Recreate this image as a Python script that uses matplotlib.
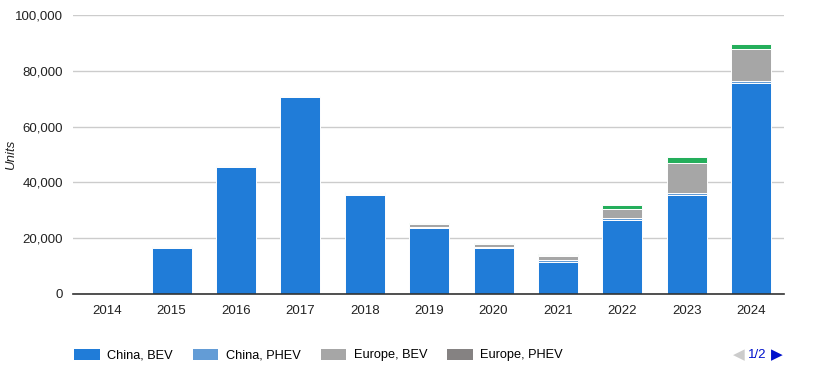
import matplotlib.pyplot as plt
import numpy as np
from matplotlib.patches import Patch
from matplotlib.ticker import FuncFormatter

plt.rcParams["font.family"] = ["Liberation Sans", "DejaVu Sans"]

years = ["2014", "2015", "2016", "2017", "2018", "2019", "2020", "2021", "2022", "2023", "2024"]
china_bev = [0, 16600, 45600, 70600, 35600, 23800, 16600, 11500, 26500, 35500, 75700]
china_phev = [0, 250, 150, 100, 200, 300, 350, 700, 700, 800, 600]
europe_bev = [0, 300, 450, 100, 350, 900, 900, 1500, 3300, 10700, 11500]
europe_phev = [0, 50, 50, 250, 250, 150, 200, 150, 100, 100, 100]
other_bev = [0, 0, 0, 0, 200, 200, 250, 550, 1300, 2000, 1800]

series = [
    ("China, BEV", china_bev, "#207CD8"),
    ("China, PHEV", china_phev, "#639CD6"),
    ("Europe, BEV", europe_bev, "#A6A6A6"),
    ("Europe, PHEV", europe_phev, "#858282"),
    ("Other, BEV", other_bev, "#24AE5B"),
]

fig = plt.figure(figsize=(8.14, 3.80), dpi=100)
ax = fig.add_axes([73 / 814, 1 - 294 / 380, (784 - 73) / 814, (294 - 15) / 380])

x = np.arange(len(years))
bottom = np.zeros(len(years))
for label, vals, color in series:
    vals = np.array(vals, dtype=float)
    ax.bar(x, vals, bottom=bottom, width=0.62, color=color,
           edgecolor="white", linewidth=0.7, zorder=3)
    bottom += vals

ax.set_xlim(-0.53, 10.51)
ax.set_ylim(0, 100000)
ax.set_yticks(range(0, 100001, 20000))
ax.yaxis.set_major_formatter(FuncFormatter(lambda v, p: f"{int(v):,}"))
ax.set_xticks(x)
ax.set_xticklabels(years)
ax.tick_params(axis="both", length=0, labelsize=9.5, colors="#222222")
ax.tick_params(axis="y", pad=7)
ax.tick_params(axis="x", pad=8)
ax.grid(axis="y", color="#CCCCCC", linewidth=1, zorder=0)
for side in ["top", "right", "left"]:
    ax.spines[side].set_visible(False)
ax.spines["bottom"].set_color("#333333")
ax.spines["bottom"].set_linewidth(1.2)
ax.spines["bottom"].set_zorder(4)
ax.set_ylabel("Units", fontsize=9.5, style="italic", color="#222222")
ax.yaxis.set_label_coords(-0.079, 0.5)

handles = [Patch(facecolor=c, edgecolor="none", label=l) for l, _, c in series[:4]]
fig.legend(handles=handles, ncol=4, frameon=False, loc="center left",
           bbox_to_anchor=(69 / 814, 1 - 355 / 380), fontsize=9.2,
           handlelength=2.0, handleheight=0.95, handletextpad=0.6,
           columnspacing=1.55, borderaxespad=0)

fig.text(739 / 814, 1 - 355 / 380, "\u25C0", color="#CCCCCC", fontsize=11,
         ha="center", va="center", family=["DejaVu Sans"])
fig.text(757 / 814, 1 - 355 / 380, "1/2", color="#0011CC", fontsize=9.5,
         ha="center", va="center")
fig.text(777 / 814, 1 - 355 / 380, "\u25B6", color="#0011CC", fontsize=11,
         ha="center", va="center", family=["DejaVu Sans"])

fig.savefig("out.png", dpi=100)
